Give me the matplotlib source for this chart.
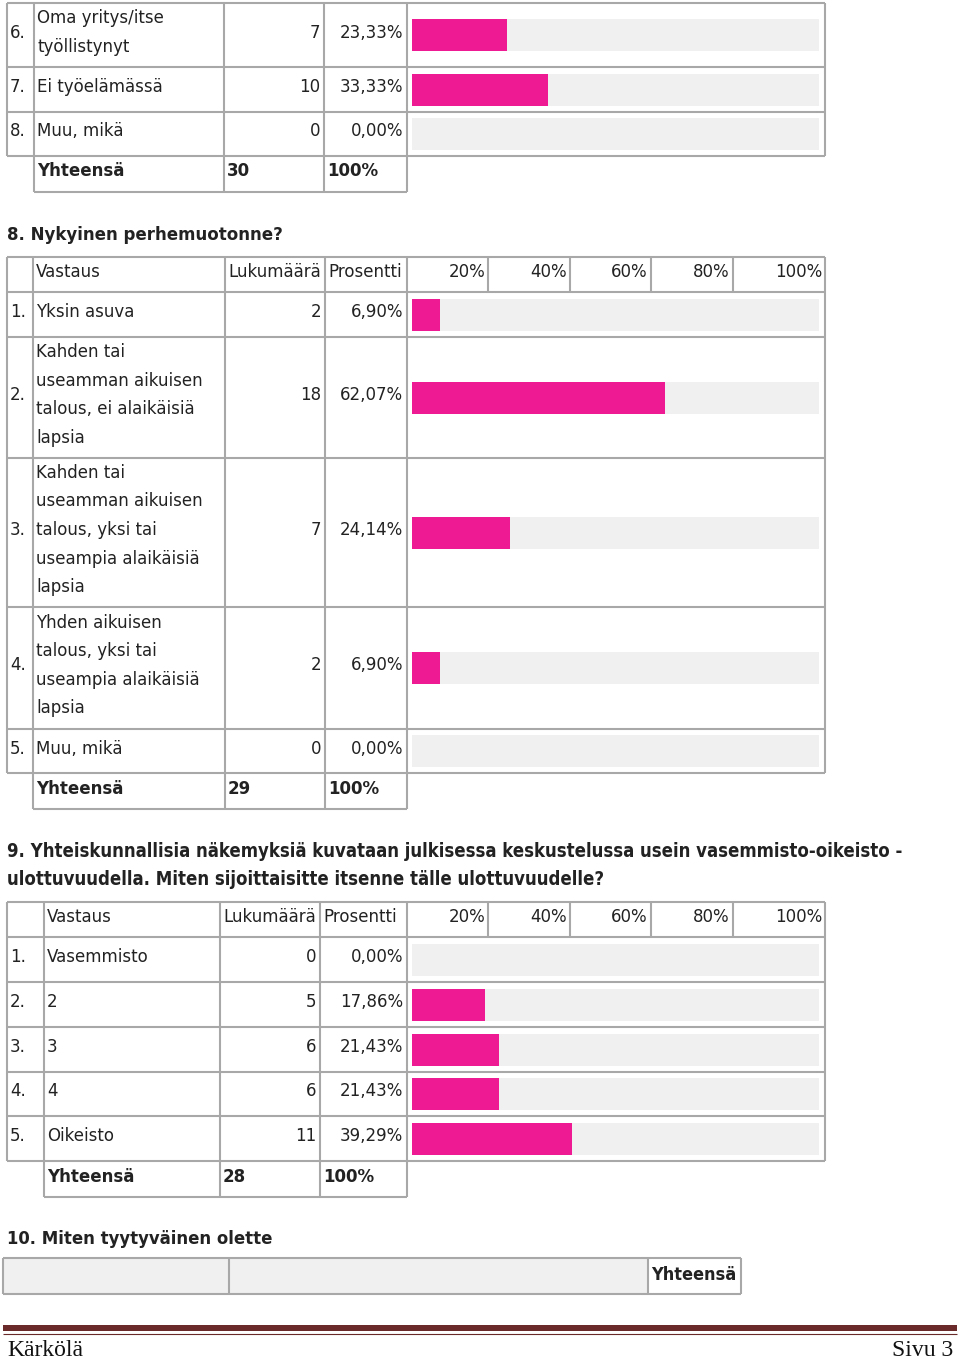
import matplotlib.pyplot as plt

# Data
t7_nums = ["6.", "7.", "8."]
t7_labels = ["Oma yritys/itse\ntyöllistynyt", "Ei työelämässä", "Muu, mikä"]
t7_counts = [7, 10, 0]
t7_pcts = [23.33, 33.33, 0.00]
t7_total = 30

t8_title = "8. Nykyinen perhemuotonne?"
t8_nums = ["1.", "2.", "3.", "4.", "5."]
t8_labels = ["Yksin asuva",
             "Kahden tai\nuseamman aikuisen\ntalous, ei alaikäisiä\nlapsia",
             "Kahden tai\nuseamman aikuisen\ntalous, yksi tai\nuseampia alaikäisiä\nlapsia",
             "Yhden aikuisen\ntalous, yksi tai\nuseampia alaikäisiä\nlapsia",
             "Muu, mikä"]
t8_counts = [2, 18, 7, 2, 0]
t8_pcts = [6.90, 62.07, 24.14, 6.90, 0.00]
t8_total = 29

t9_title = ["9. Yhteiskunnallisia näkemyksiä kuvataan julkisessa keskustelussa usein vasemmisto-oikeisto -",
            "ulottuvuudella. Miten sijoittaisitte itsenne tälle ulottuvuudelle?"]
t9_nums = ["1.", "2.", "3.", "4.", "5."]
t9_labels = ["Vasemmisto", "2", "3", "4", "Oikeisto"]
t9_counts = [0, 5, 6, 6, 11]
t9_pcts = [0.00, 17.86, 21.43, 21.43, 39.29]
t9_total = 28

t10_title = "10. Miten tyytyväinen olette"
headers = ["Vastaus", "Lukumäärä", "Prosentti"]
scale_ticks = ["20%", "40%", "60%", "80%", "100%"]

PINK = "#EE1A93"
BG = "#F0F0F0"
LINE = "#A8A8A8"
TXT = "#222222"
FS = 12
DY = -2.5  # text sits a little above the cell centre

W, H = 960, 1359
fig = plt.figure(figsize=(W / 100, H / 100), dpi=100)
ax = fig.add_axes([0, 0, 1, 1])
ax.set_xlim(0, W)
ax.set_ylim(H, 0)
ax.axis("off")


def hline(y, x0, x1, c=LINE, lw=1.5):
    ax.plot([x0, x1], [y, y], color=c, lw=lw, solid_capstyle="butt")


def vline(x, y0, y1, c=LINE, lw=1.5):
    ax.plot([x, x], [y0, y1], color=c, lw=lw, solid_capstyle="butt")


def pct_str(p):
    return f"{p:.2f}%".replace(".", ",")


def put(x, y, s, **kw):
    kw.setdefault("fontsize", FS)
    kw.setdefault("color", TXT)
    ax.text(x, y + DY, s, va="center", **kw)


def text_lines(x, yc, s, **kw):
    lines = s.split("\n")
    n = len(lines)
    for i, ln in enumerate(lines):
        put(x, yc + (i - (n - 1) / 2) * 28.5, ln, **kw)


def draw_table(nums, labels, counts, pcts, total, rows, tot_bot, cols, head_top=None):
    # cols: left, label col, count col, pct col, bar col, right
    xl, xlab, xcnt, xpct, xbar, xr = cols
    top = head_top if head_top is not None else rows[0]
    for y in ([head_top] if head_top is not None else []) + rows:
        hline(y, xl, xr)
    for x in cols:
        vline(x, top, rows[-1])
    if head_top is not None:
        hc = (head_top + rows[0]) / 2
        for x in [488, 570, 651, 733]:
            vline(x, head_top, rows[0])
        put(xlab + 3, hc, headers[0])
        put(xcnt + 3, hc, headers[1])
        put(xpct + 3, hc, headers[2])
        for x, t in zip([488, 570, 651, 733, 825], scale_ticks):
            put(x - 3, hc, t, ha="right")
    centers = []
    for i in range(len(labels)):
        yc = (rows[i] + rows[i + 1]) / 2
        centers.append(yc)
        put(xl + 3, yc, nums[i])
        text_lines(xlab + 3, yc, labels[i])
        put(xpct - 4, yc, str(counts[i]), ha="right")
        put(xbar - 4, yc, pct_str(pcts[i]), ha="right")
    # total row
    for x in [xlab, xcnt, xpct, xbar]:
        vline(x, rows[-1], tot_bot)
    hline(tot_bot, xlab, xbar)
    tc = (rows[-1] + tot_bot) / 2
    put(xlab + 3, tc, "Yhteensä", weight="bold")
    put(xcnt + 3, tc, str(total), weight="bold")
    put(xpct + 3, tc, "100%", weight="bold")
    # bars in their own axes: x in percent, y in page pixels
    bx0, bx1 = 412, 819
    bax = fig.add_axes([bx0 / W, 1 - rows[-1] / H, (bx1 - bx0) / W, (rows[-1] - top) / H])
    bax.set_xlim(0, 100)
    bax.set_ylim(rows[-1], top)
    bax.axis("off")
    bax.barh(centers, [100] * len(centers), height=32, color=BG)
    bax.barh(centers, pcts, height=32, color=PINK)


# Table 7 (continued from previous page)
draw_table(t7_nums, t7_labels, t7_counts, t7_pcts, t7_total,
           [3, 67, 112, 156], 192, [7, 34, 224, 324, 407, 825])

# Table 8
put(7, 238, t8_title, weight="bold")
draw_table(t8_nums, t8_labels, t8_counts, t8_pcts, t8_total,
           [292, 337, 458, 607, 729, 773], 809, [7, 33, 225, 325, 407, 825], head_top=257)

# Table 9
for i, ln in enumerate(t9_title):
    put(7, 854 + i * 28, ln, fontsize=13.35, weight="bold", fontstretch="condensed")
draw_table(t9_nums, t9_labels, t9_counts, t9_pcts, t9_total,
           [937, 982, 1027, 1072, 1116, 1161], 1197, [7, 44, 220, 320, 407, 825], head_top=902)

# Table 10
put(7, 1242, t10_title, fontsize=13.2, weight="bold", fontstretch="condensed")
ax.fill_between([3, 648], 1258, 1294, color=BG, lw=0)
hline(1258, 3, 741)
hline(1294, 3, 741)
for x in [3, 229, 648, 741]:
    vline(x, 1258, 1294)
put(651, 1278, "Yhteensä", fontsize=13, weight="bold", fontstretch="condensed")

# Footer
ax.fill_between([3, 957], 1325, 1331, color="#6B2A2A", lw=0)
hline(1333.5, 3, 957, c="#6B2A2A", lw=0.8)
ax.text(7, 1350, "Kärkölä", va="center", fontsize=17, family="Liberation Serif", color="#111111")
ax.text(953, 1350, "Sivu 3", va="center", ha="right", fontsize=17, family="Liberation Serif",
        color="#111111")

fig.savefig("out.png", dpi=100)
